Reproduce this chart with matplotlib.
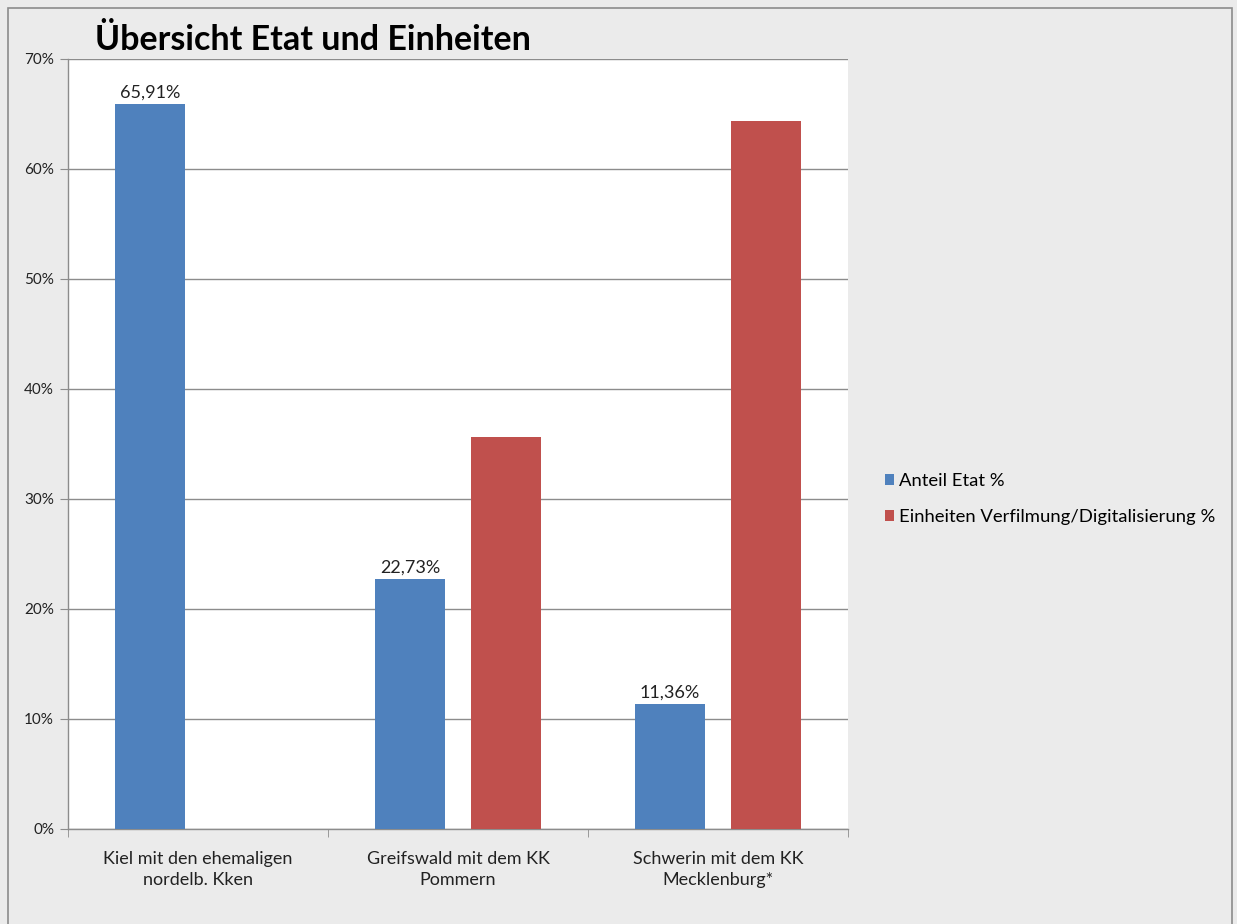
import matplotlib
matplotlib.use("Agg")
import matplotlib.pyplot as plt
import numpy as np
from matplotlib.patches import Rectangle
from matplotlib.ticker import FuncFormatter, MultipleLocator

plt.rcParams['font.family'] = ['Lato', 'DejaVu Sans']

categories = ["Kiel mit den ehemaligen\nnordelb. Kken",
              "Greifswald mit dem KK\nPommern",
              "Schwerin mit dem KK\nMecklenburg*"]
anteil_etat = [65.91, 22.73, 11.36]
einheiten = [0.0, 35.6, 64.4]
series_names = ["Anteil Etat %", "Einheiten Verfilmung/Digitalisierung %"]
title = "Übersicht Etat und Einheiten"

blue = "#4f81bd"
red = "#c0504d"
bg = "#ebebeb"

fig = plt.figure(figsize=(12.37, 9.24), dpi=100, facecolor=bg)
fig.patches.append(Rectangle((8 / 1237, -0.01), 1 - 13 / 1237, 1 - 8 / 924 + 0.01,
                             transform=fig.transFigure, fill=False,
                             edgecolor="#8c8c8c", linewidth=1.2))

ax = fig.add_axes([68 / 1237, 1 - 829 / 924, 780 / 1237, 770 / 924])
ax.set_facecolor("white")

x = np.arange(len(categories))
w = 0.27
off = 0.185
b1 = ax.bar(x - off, anteil_etat, w, color=blue, label=series_names[0], zorder=3)
b2 = ax.bar(x + off, einheiten, w, color=red, label=series_names[1], zorder=3)

for rect, v in zip(b1, anteil_etat):
    ax.annotate(f"{v:.2f}%".replace(".", ","),
                (rect.get_x() + rect.get_width() / 2, v),
                xytext=(0, 2.5), textcoords="offset points",
                ha="center", va="bottom", fontsize=13, color="#222222", zorder=4)

ax.set_xlim(-0.5, len(categories) - 0.5)
ax.set_ylim(0, 70)
ax.yaxis.set_major_locator(MultipleLocator(10))
ax.yaxis.set_major_formatter(FuncFormatter(lambda v, p: f"{v:.0f}%"))
ax.grid(axis="y", color="#8c8c8c", linewidth=1.0, zorder=0)
ax.set_axisbelow(True)

ax.set_xticks(x)
ax.set_xticklabels(categories, fontsize=13, color="#222222", linespacing=1.4)
ax.set_xticks(np.arange(-0.5, len(categories), 1), minor=True)
ax.tick_params(axis="x", which="major", length=0, pad=16)
ax.tick_params(axis="x", which="minor", length=6, color="#8c8c8c", direction="out")
ax.tick_params(axis="y", length=6, color="#8c8c8c", direction="out",
               labelsize=11, labelcolor="#222222", pad=4)

for s in ["top", "right"]:
    ax.spines[s].set_visible(False)
for s in ["left", "bottom"]:
    ax.spines[s].set_color("#8c8c8c")
    ax.spines[s].set_linewidth(1.0)

fig.text(95 / 1237, 1 - 40 / 924, title, fontsize=24.5, fontweight="bold",
         ha="left", va="center", color="black")

fig.legend(handles=[b1, b2], labels=series_names, loc="center left",
           bbox_to_anchor=(868 / 1237, 1 - 499 / 924), frameon=False,
           fontsize=13.3, handlelength=0.5, handleheight=0.5, handletextpad=0.3,
           labelspacing=1.1)

fig.savefig("out.png", dpi=100, facecolor=bg)
